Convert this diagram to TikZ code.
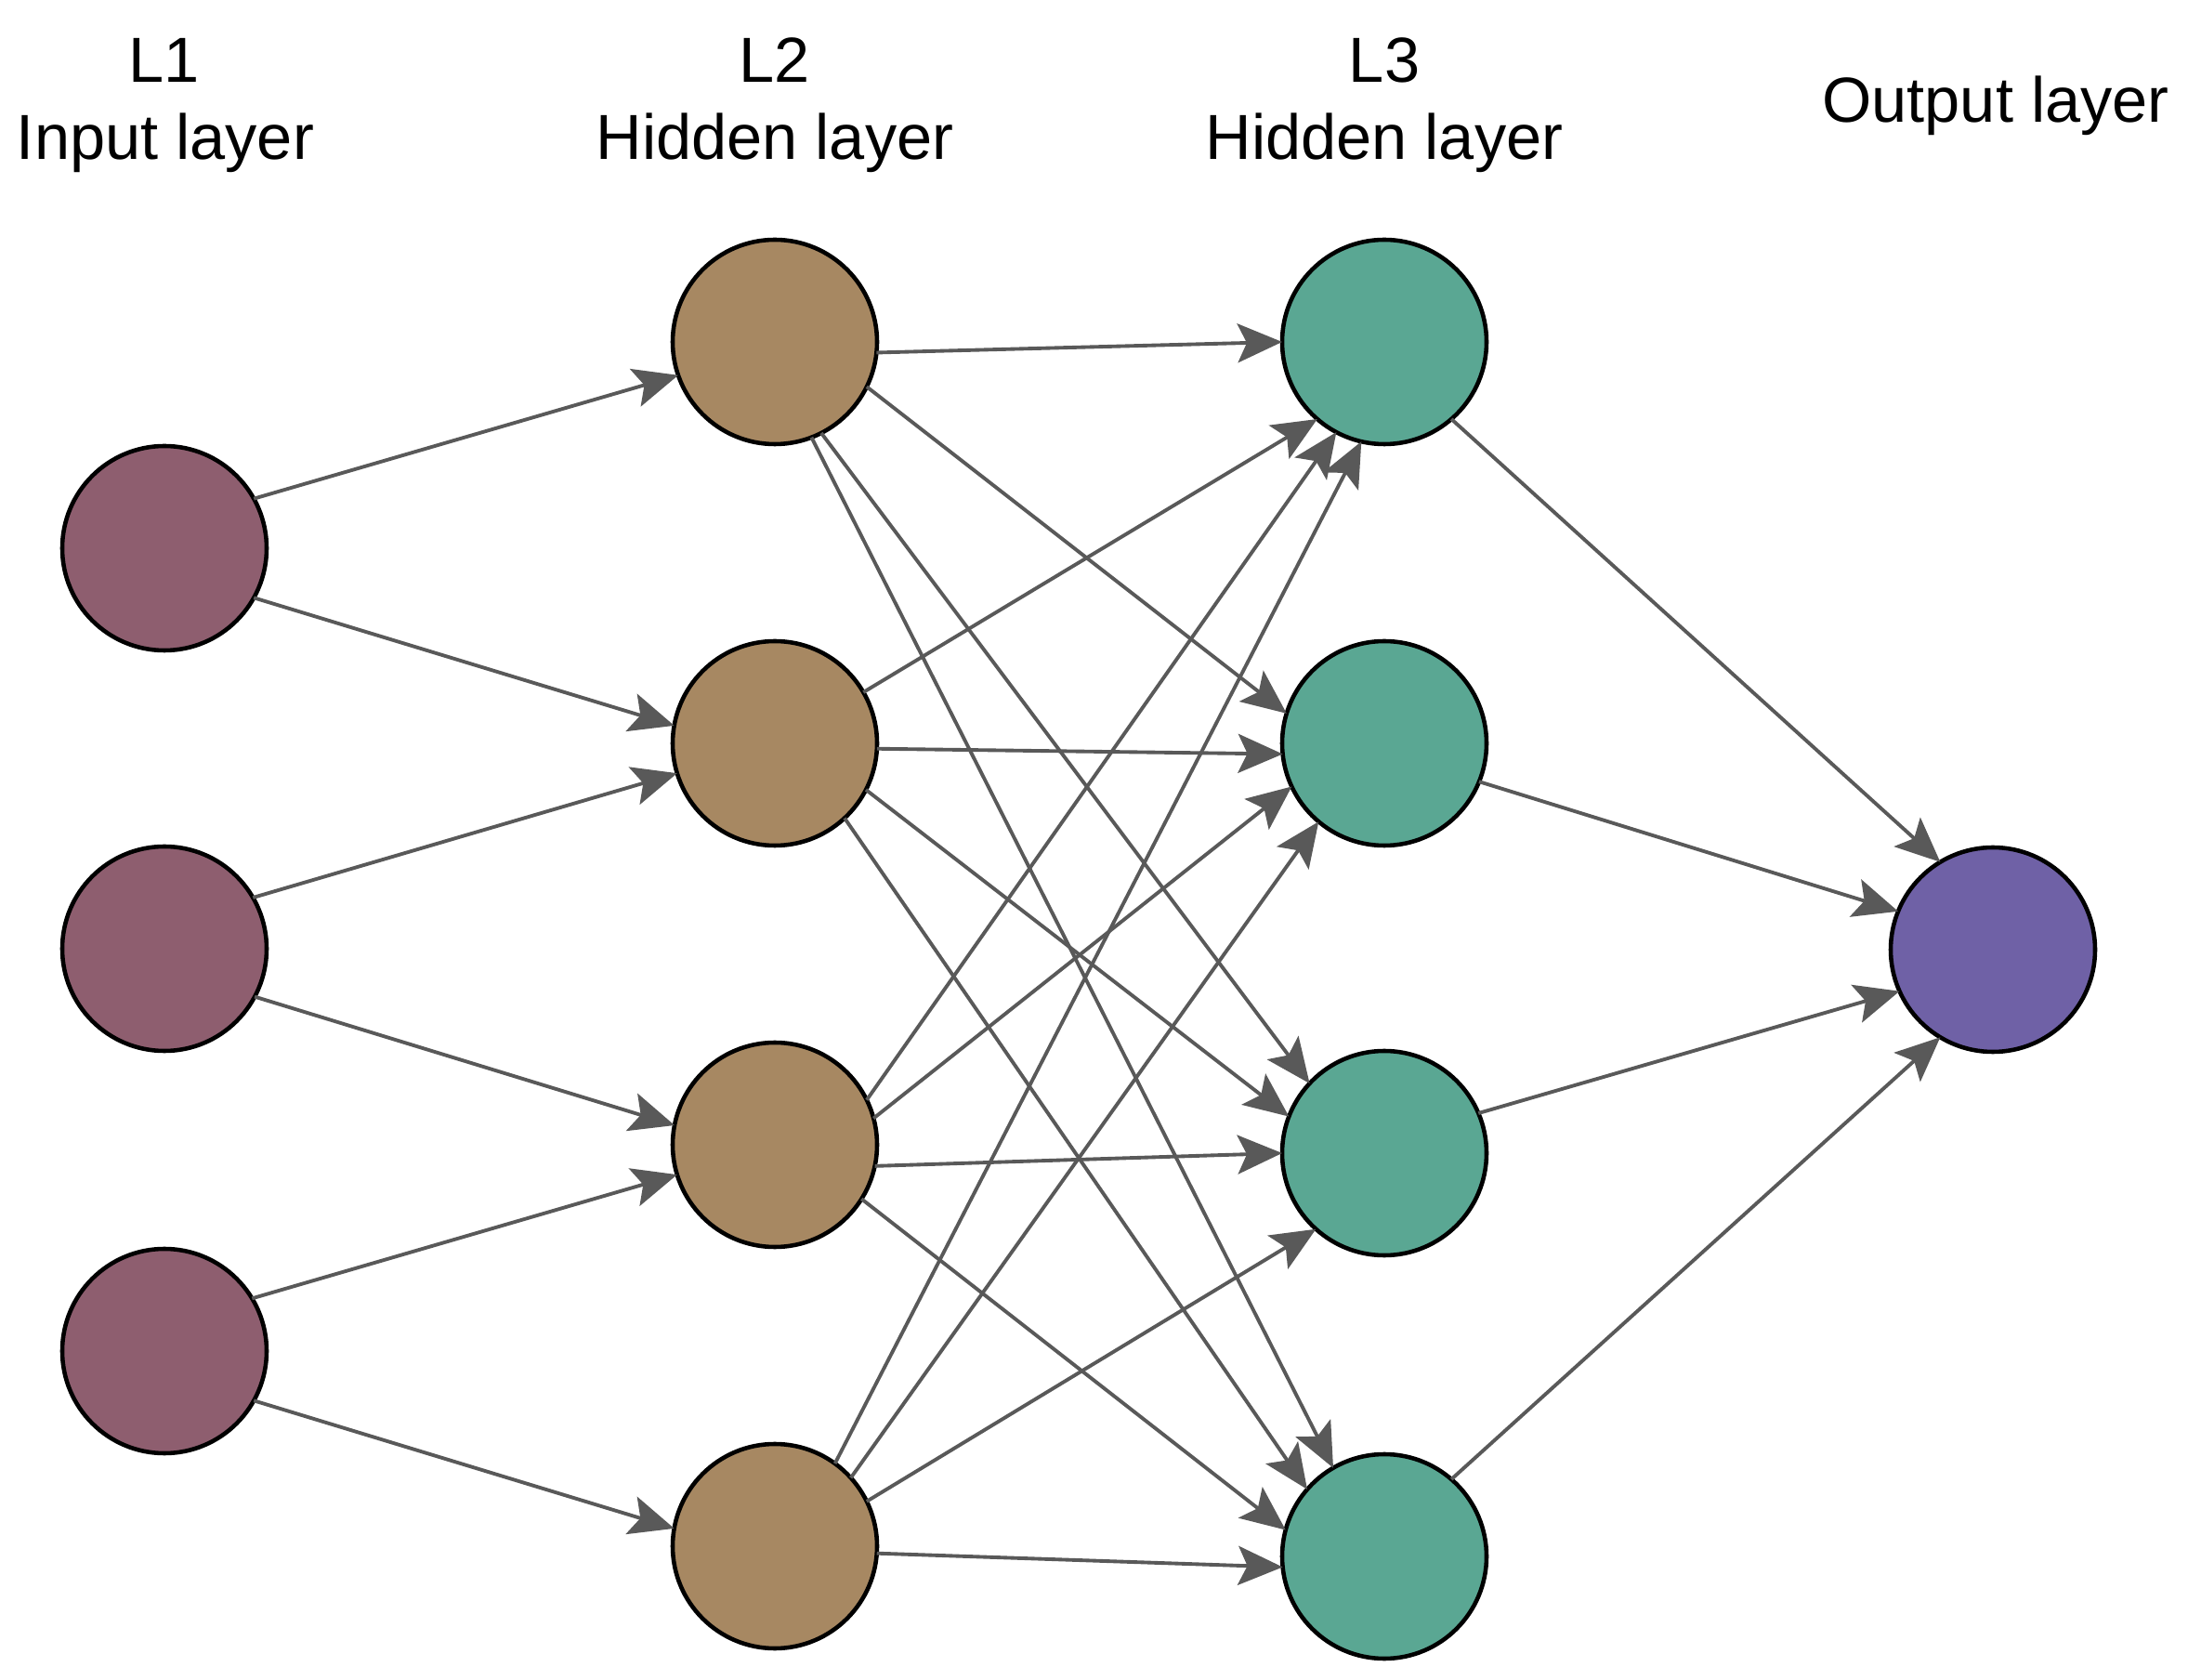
\documentclass[tikz,border=0pt]{standalone}
\usepackage{fontspec}
\setmainfont{Liberation Sans}
\usepackage{tikz}
\usetikzlibrary{arrows.meta}
\definecolor{inputcol}{HTML}{8E5E6F}
\definecolor{hidAcol}{HTML}{A78862}
\definecolor{hidBcol}{HTML}{5AA793}
\definecolor{outcol}{HTML}{6F61A6}
\definecolor{edgecol}{HTML}{595959}

\begin{document}
\begin{tikzpicture}[
    neuron/.style={circle, draw=black, line width=1.3pt, minimum size=2.2cm, inner sep=0pt, outer sep=0pt},
    edge/.style={edgecol, line width=1.1pt, -{Stealth[length=4.8mm, width=4.2mm, inset=1mm]}},
    lbl/.style={anchor=base, font=\fontsize{19.5}{23.5}\selectfont}
  ]
        \useasboundingbox (0,0) rectangle (23.55,-18.08); % Khung hình

        % Tiêu đề các lớp
        \node[lbl] (t1) at (1.77,-0.89) {L1};
        \node[lbl] (t1b) at (1.78,-1.72) {Input layer};
        \node[lbl] (t2) at (8.34,-0.89) {L2};
        \node[lbl] (t2b) at (8.34,-1.72) {Hidden layer};
        \node[lbl] (t3) at (14.90,-0.89) {L3};
        \node[lbl] (t3b) at (14.90,-1.72) {Hidden layer};
        \node[lbl] (t4) at (21.48,-1.32) {Output layer};

        % Lớp vào
        \node[neuron, fill=inputcol] (a1) at (1.77,-5.90) {};
        \node[neuron, fill=inputcol] (a2) at (1.77,-10.21) {};
        \node[neuron, fill=inputcol] (a3) at (1.77,-14.54) {};

        % Lớp ẩn thứ nhất
        \node[neuron, fill=hidAcol] (b1) at (8.34,-3.68) {};
        \node[neuron, fill=hidAcol] (b2) at (8.34,-8.00) {};
        \node[neuron, fill=hidAcol] (b3) at (8.34,-12.32) {};
        \node[neuron, fill=hidAcol] (b4) at (8.34,-16.64) {};

        % Lớp ẩn thứ hai
        \node[neuron, fill=hidBcol] (c1) at (14.90,-3.68) {};
        \node[neuron, fill=hidBcol] (c2) at (14.90,-8.00) {};
        \node[neuron, fill=hidBcol] (c3) at (14.90,-12.41) {};
        \node[neuron, fill=hidBcol] (c4) at (14.90,-16.75) {};

        % Lớp ra
        \node[neuron, fill=outcol] (out) at (21.45,-10.22) {};

        % Cạnh L1 -> L2
        \foreach \s/\p/\t/\q in {a1/29/b1/199, a1/-29/b2/170, a2/30/b2/197,
            a2/-28/b3/169, a3/31/b3/197, a3/-29/b4/170}
          \draw[edge] (\s.\p) -- (\t.\q);

        % Cạnh L2 -> L3
        \foreach \s/\p/\t/\q in {b1/-6/c1/180, b1/-26/c2/163, b1/-63/c3/137, b1/-69/c4/120,
            b2/30/c1/229, b2/-3.5/c2/186, b2/-27/c3/159, b2/-47/c4/139,
            b3/26/c1/242, b3/15/c2/205, b3/-12/c3/180, b3/-32/c4/165,
            b4/54/c1/257, b4/42/c2/230, b4/26/c3/228, b4/-4/c4/186}
          \draw[edge] (\s.\p) -- (\t.\q);

        % Cạnh L3 -> lớp ra
        \foreach \s/\p/\q in {c1/-49/121.5, c2/-22/158, c3/23/204, c4/49/239}
          \draw[edge] (\s.\p) -- (out.\q);

\end{tikzpicture}
\end{document}
